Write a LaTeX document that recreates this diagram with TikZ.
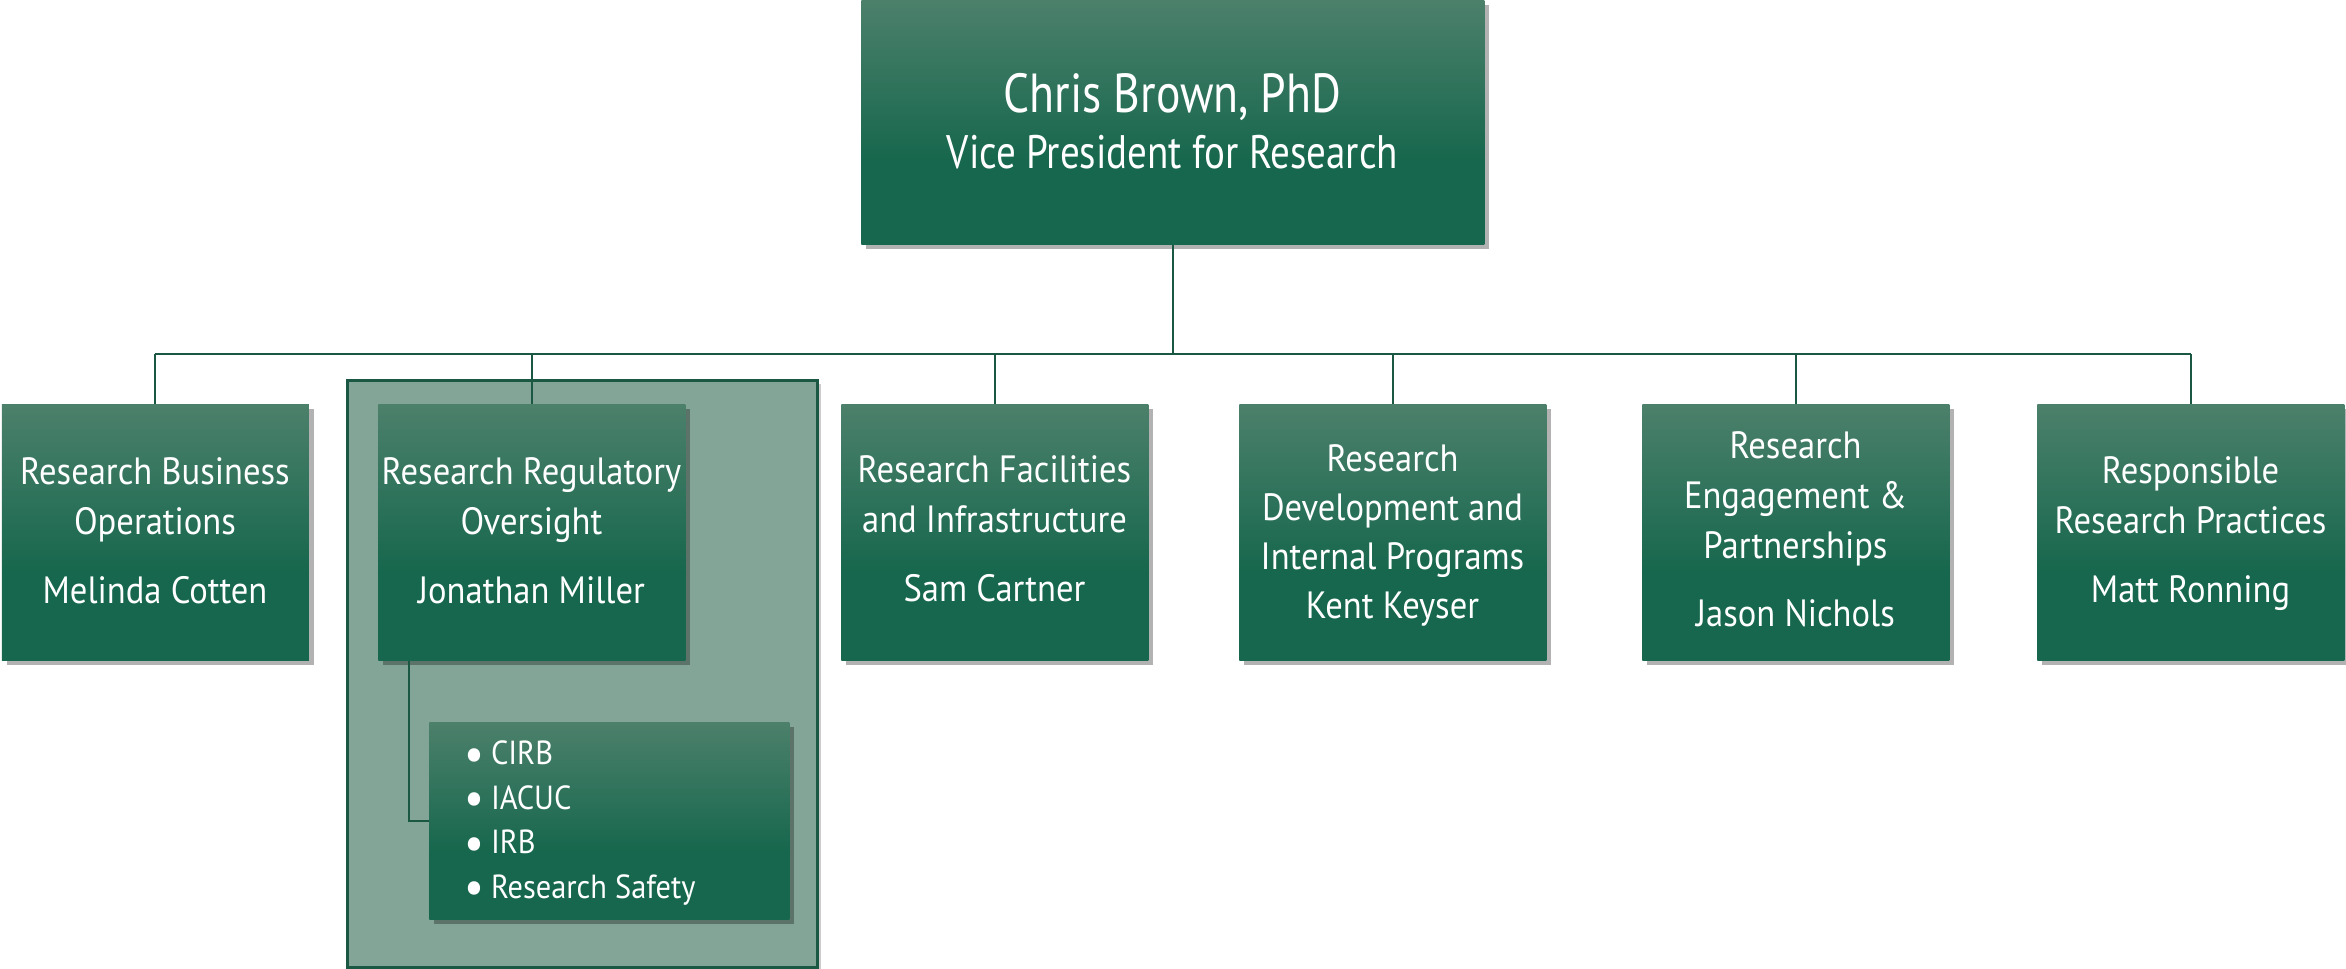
\documentclass[tikz,border=0pt]{standalone}
\usepackage{fontspec}
\usepackage{graphicx}
\setmainfont{PT Sans}[FakeStretch=0.91]
\newfontfamily\titlefont{PT Sans}[FakeStretch=0.83]
\newcommand\listbul{\raisebox{-0.17em}{\scalebox{1.45}{•}}\hspace{0.2em}}
\usetikzlibrary{shadows}
\definecolor{glight}{RGB}{76,128,107}
\definecolor{gdark}{RGB}{22,103,77}
\definecolor{panelfill}{RGB}{131,165,151}
\definecolor{linegreen}{RGB}{27,88,67}
\pgfdeclareverticalshading{boxshade}{100bp}{color(0bp)=(gdark); color(25bp)=(gdark); color(42bp)=(gdark); color(75bp)=(glight); color(100bp)=(glight)}
\begin{document}
\begin{tikzpicture}[x=0.5pt,y=-0.5pt,
  gbox/.style={rectangle, inner sep=0pt, anchor=north west, shading=boxshade,
    drop shadow={shadow xshift=2.5pt, shadow yshift=-2.5pt, opacity=0.3, fill=black}},
  unitbox/.style={gbox, minimum width=153.5pt, minimum height=128pt},
  lbl/.style={text=white, inner sep=0pt, align=center, anchor=base,
    font=\fontsize{19}{25}\selectfont},
  conn/.style={draw=linegreen, line width=1pt},
  panel/.style={fill=panelfill, draw=linegreen, line width=1.5pt,
    drop shadow={shadow xshift=2pt, shadow yshift=-2pt, opacity=0.2, fill=black}}]
\useasboundingbox (0,0) rectangle (2346,969);

% shaded panel behind Research Regulatory Oversight
\path[panel] (347,380) rectangle (817,967);

% top box
\node[gbox, minimum width=311.5pt, minimum height=122pt] (vp) at (861,0) {};
\node[lbl, font=\titlefont\fontsize{23.5}{28}\selectfont] (vpt) at (1172.5,168)
  {{\fontsize{27.5}{28}\selectfont Chris Brown, PhD}\\Vice President for Research};

% child boxes
\node[unitbox] (b1) at (1.5,404) {};
\node[unitbox] (b2) at (378,404) {};
\node[unitbox] (b3) at (841,404) {};
\node[unitbox] (b4) at (1239,404) {};
\node[unitbox] (b5) at (1642,404) {};
\node[unitbox] (b6) at (2037,404) {};

\node[lbl] (t1) at (155,603) {Research Business\\Operations\\[9.5pt]Melinda Cotten};
\node[lbl] (t2) at (531.5,603) {Research Regulatory\\Oversight\\[9.5pt]Jonathan Miller};
\node[lbl] (t3) at (994.5,601) {Research Facilities\\and Infrastructure\\[9.5pt]Sam Cartner};
\node[lbl, font=\fontsize{19}{24.5}\selectfont] (t4) at (1392.5,618) {Research\\Development and\\Internal Programs\\Kent Keyser};
\node[lbl] (t5) at (1795.5,626) {Research\\Engagement \&\\Partnerships\\[9pt]Jason Nichols};
\node[lbl] (t6) at (2190.5,602) {Responsible\\Research Practices\\[9.5pt]Matt Ronning};

% sub box
\node[gbox, minimum width=180pt, minimum height=98.5pt] (sub) at (429,722) {};
\node[lbl, align=left, anchor=base west, font=\fontsize{16.7}{22.2}\selectfont] (lst) at (464,898)
  {\listbul CIRB\\\listbul IACUC\\\listbul IRB\\\listbul Research Safety};

% connectors
\coordinate (bus) at (0,354);
\draw[conn] (vp.south) -- (vp.south |- bus);
\draw[conn] (b1.north |- bus) -- (b6.north |- bus);
\foreach \b in {b1,b2,b3,b4,b5,b6} {
  \draw[conn] (\b.north |- bus) -- (\b.north);
}
\draw[conn] ([xshift=15.5pt]b2.south west) |- (sub.west);
\end{tikzpicture}
\end{document}
